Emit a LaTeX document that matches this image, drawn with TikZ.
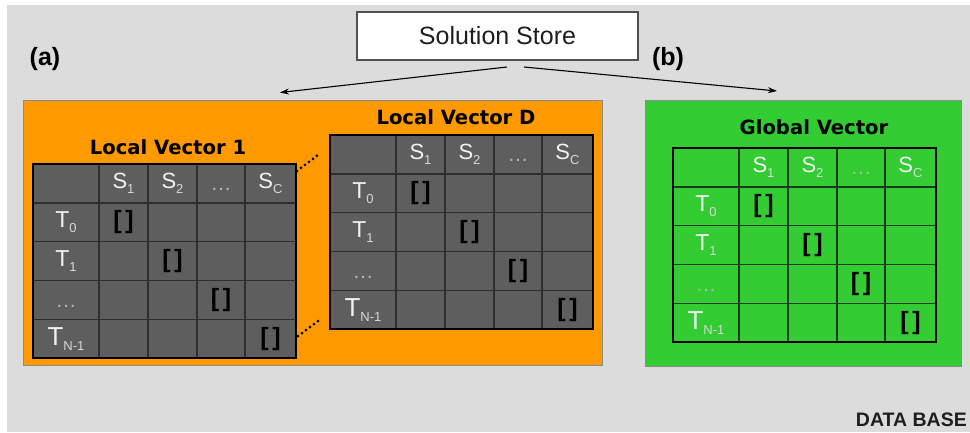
\documentclass[tikz,border=0pt]{standalone}
\usepackage{fontspec}
\setmainfont{Liberation Sans}
\newfontfamily\dvfont{DejaVu Sans}
\usetikzlibrary{arrows.meta}
\definecolor{bggray}{HTML}{DCDCDC}
\definecolor{orng}{HTML}{FF9900}
\definecolor{grn}{HTML}{33CC33}
\definecolor{cellgray}{HTML}{5E5E5E}
\definecolor{gridgray}{HTML}{2E2E2E}
\definecolor{gridgrn}{HTML}{1E3A1E}
\definecolor{txtw}{HTML}{F2F2F2}
\definecolor{subc}{HTML}{D8D8D8}
\definecolor{ellc}{HTML}{B4B4B4}
\definecolor{boxedge}{HTML}{8A8A8A}
\definecolor{storeedge}{HTML}{505050}
\definecolor{darktxt}{HTML}{1E1E1E}

\newcommand{\subtx}[1]{\raisebox{-5pt}{\fontsize{13}{13}\selectfont\color{subc}#1}}

\tikzset{
  hdr/.style={inner sep=0pt, text=txtw, font=\fontsize{22}{22}\selectfont},
  rowl/.style={inner sep=0pt, text=txtw, font=\fontsize{23}{23}\selectfont},
  elli/.style={inner sep=0pt, text=ellc, font=\fontsize{21}{21}\selectfont},
  brk/.style={inner sep=0pt, text=black, font=\bfseries\fontsize{25}{25}\selectfont},
  ttl/.style={inner sep=0pt, text=black, font=\dvfont\bfseries\fontsize{19.6}{20}\selectfont},
  lbl/.style={inner sep=0pt, text=black, font=\bfseries\fontsize{25}{25}\selectfont},
  arr/.style={draw=black, line width=1.1pt, -{Stealth[length=9pt,width=6pt]}},
  dotline/.style={draw=black, line width=3pt, line cap=round, dash pattern=on 0pt off 5pt},
  panel/.style={draw=boxedge, line width=0.9pt, inner sep=0pt}
}

\newcommand{\vectable}[5]{%
\begin{scope}[shift={(#2,#3)}]
\fill[#4] (0,0) rectangle (263,194);
\foreach \cx in {66,115,164,212} \draw[#5, line width=1.4pt] (\cx,0) -- (\cx,194);
\foreach \ry in {38.8,77.6,116.4,155.2} \draw[#5, line width=1.4pt] (0,\ry) -- (263,\ry);
\draw[black, line width=2.8pt] (0,0) rectangle (263,194);
\node[hdr] (#1s1) at (90.5,19.4) {S\subtx{1}};
\node[hdr] (#1s2) at (139.5,19.4) {S\subtx{2}};
\node[elli] (#1sd) at (188,19.4) {\vphantom{S}…};
\node[hdr] (#1sc) at (237.5,19.4) {S\subtx{C}};
\node[rowl] (#1t0) at (33,58.2) {T\subtx{0}};
\node[rowl] (#1t1) at (33,97) {T\subtx{1}};
\node[elli] (#1td) at (33,135.8) {\vphantom{S}…};
\node[rowl, font=\fontsize{26}{26}\selectfont] (#1tn) at (33,174.6) {T\subtx{N-1}};
\node[brk] (#1b0) at (90.5,58.2) {[\kern3.5pt]};
\node[brk] (#1b1) at (139.5,97) {[\kern3.5pt]};
\node[brk] (#1b2) at (188,135.8) {[\kern3.5pt]};
\node[brk] (#1b3) at (237.5,174.6) {[\kern3.5pt]};
\end{scope}}

\begin{document}
\begin{tikzpicture}[x=1pt, y=-1pt]
\useasboundingbox (0,0) rectangle (970,432);
\fill[white] (0,0) rectangle (970,432);
\fill[bggray] (7,5) rectangle (970,432);

% Solution store
\node[draw=storeedge, line width=1.2pt, fill=white, minimum width=281pt, minimum height=48pt, inner sep=0pt,
      text=darktxt, font=\fontsize{25}{25}\selectfont] (store) at (497.5,36) {Solution Store};

% labels
\node[lbl] (la) at (45,59) {(a)};
\node[lbl] (lb) at (668,59) {(b)};

% arrows
\coordinate (sl) at (507,67);
\coordinate (sr) at (524,67);
\coordinate (tl) at (280,92.5);
\coordinate (tr) at (777,91);
\draw[arr] (sl) -- (tl);
\draw[arr] (sr) -- (tr);

% panels
\node[panel, fill=orng, minimum width=578.5pt, minimum height=265pt] (orangebox) at (312.75,232.5) {};
\node[panel, fill=grn, minimum width=316pt, minimum height=266pt] (greenbox) at (803.5,233) {};

% titles
\node[ttl] (t1) at (168,147) {Local Vector 1};
\node[ttl] (tD) at (456,117) {Local Vector D};
\node[ttl] (tG) at (814,127) {Global Vector};

% tables
\vectable{A}{33}{164}{cellgray}{gridgray}
\vectable{D}{330}{135}{cellgray}{gridgray}
\vectable{G}{673}{148}{grn}{gridgrn}

% dotted links
\coordinate (du1) at (297,171);
\coordinate (du2) at (318,155);
\coordinate (dl1) at (298,336);
\coordinate (dl2) at (318,321);
\draw[dotline] (du1) -- (du2);
\draw[dotline] (dl1) -- (dl2);

% data base label
\node[inner sep=0pt, anchor=base east, text=darktxt, font=\bfseries\fontsize{19.5}{19.5}\selectfont] (db) at (967,426) {DATA BASE};
\end{tikzpicture}
\end{document}
